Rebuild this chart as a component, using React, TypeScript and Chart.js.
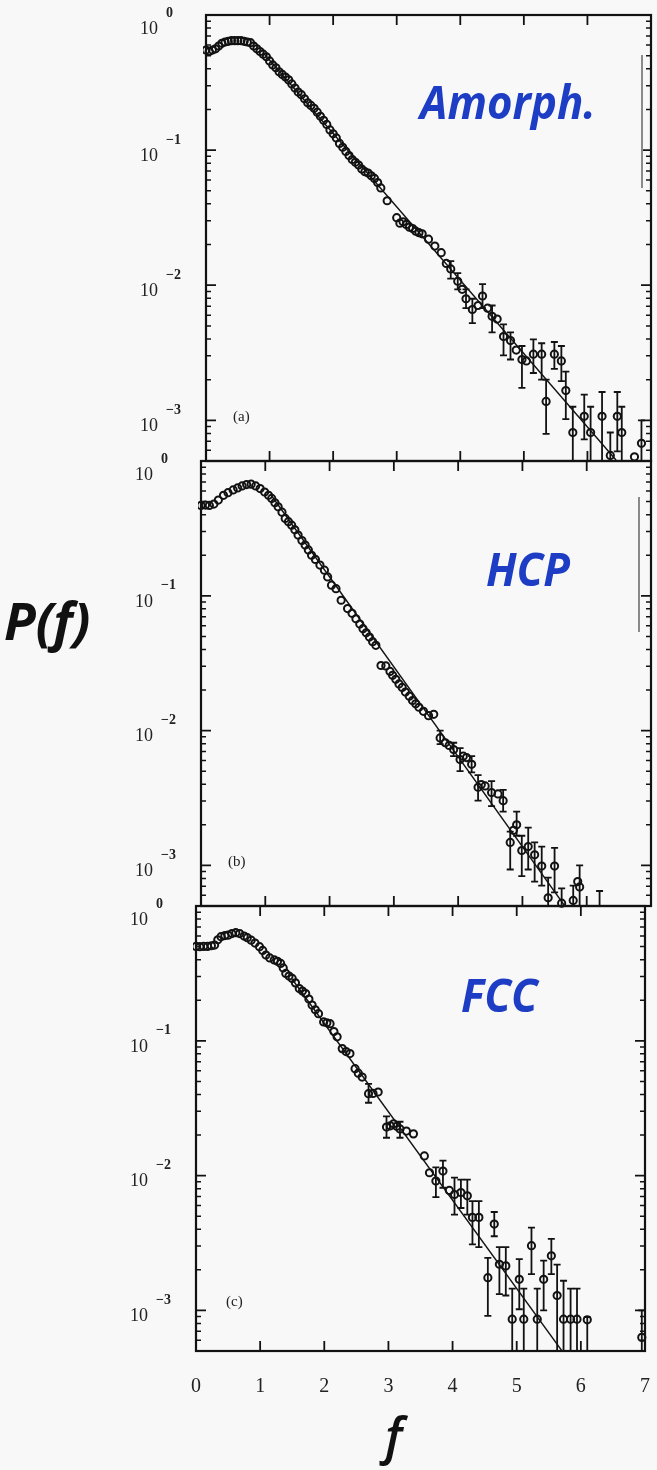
import React, { useEffect, useRef } from "react";
import { Chart, registerables } from "chart.js";

Chart.register(...registerables);

// ---------- axes ----------
const xTickValues = [0, 1, 2, 3, 4, 5, 6, 7];
const xTickLabels = ["0", "1", "2", "3", "4", "5", "6", "7"];
const yDecades = [1, 0.1, 0.01, 0.001];
const yExponents = ["0", "−1", "−2", "−3"];
const yMinorFactors = [2, 3, 4, 5, 6, 7, 8, 9];
const yMin = 5e-4;
const yMax = 1;
const xMin = 0;
const xMax = 7;

// ---------- panel (a) Amorph. ----------
const amorphF = [
  0.0, 0.05, 0.1, 0.15, 0.2, 0.25, 0.3, 0.35, 0.4, 0.45, 0.5, 0.55, 0.6, 0.65, 0.7, 0.75, 0.8, 0.85, 0.9, 0.95,
  1.0, 1.05, 1.1, 1.15, 1.2, 1.25, 1.3, 1.35, 1.4, 1.45, 1.5, 1.55, 1.6, 1.65, 1.7, 1.75, 1.8, 1.85, 1.9, 1.95,
  2.0, 2.05, 2.1, 2.15, 2.2, 2.25, 2.3, 2.35, 2.4, 2.45, 2.5, 2.55, 2.6, 2.65, 2.7, 2.75,
  2.85, 3.0, 3.05, 3.1, 3.15, 3.2, 3.25, 3.3, 3.35, 3.4,
  3.5, 3.6, 3.7, 3.78, 3.85, 3.96, 4.03, 4.09, 4.19, 4.28,
  4.35, 4.43, 4.5, 4.58, 4.68, 4.79, 4.88, 4.97, 5.04, 5.15,
  5.28, 5.35, 5.48, 5.59, 5.66, 5.77, 5.95, 6.05, 6.23, 6.36,
  6.47, 6.54, 6.74, 6.85,
];
const amorphP = [
  0.55, 0.537, 0.55, 0.562, 0.589, 0.617, 0.631, 0.638, 0.646, 0.646, 0.646, 0.646, 0.638, 0.631, 0.624, 0.589, 0.562, 0.537, 0.513, 0.49,
  0.457, 0.427, 0.407, 0.38, 0.363, 0.347, 0.331, 0.309, 0.288, 0.269, 0.257, 0.24, 0.224, 0.214, 0.204, 0.191, 0.178, 0.166, 0.155, 0.141,
  0.132, 0.123, 0.112, 0.105, 0.0977, 0.0912, 0.0851, 0.0813, 0.0776, 0.0724, 0.0692, 0.0676, 0.0646, 0.0617, 0.0575, 0.0525,
  0.0422, 0.0316, 0.0288, 0.0295, 0.0282, 0.0269, 0.0263, 0.0251, 0.0245, 0.024,
  0.0219, 0.0195, 0.0174, 0.0145, 0.0132, 0.0107, 0.00933, 0.00794, 0.00661, 0.00708,
  0.00832, 0.00676, 0.00589, 0.00562, 0.00417, 0.00389, 0.00331, 0.00282, 0.00275, 0.00309,
  0.00309, 0.00138, 0.00309, 0.00275, 0.00166, 0.000813, 0.00107, 0.000813, 0.00107, 0.00055,
  0.00107, 0.000813, 0.000537, 0.000676,
];
const amorphErrF = [3.85, 3.96, 4.09, 4.19, 4.35, 4.5, 4.68, 4.79, 4.97, 5.15, 5.28, 5.35, 5.48, 5.59, 5.66, 5.77, 5.95, 6.05, 6.23, 6.36, 6.47, 6.54, 6.85];
const amorphErrLo = [0.0112, 0.00933, 0.00676, 0.00525, 0.00676, 0.00447, 0.00302, 0.00282, 0.00174, 0.00224, 0.002, 0.000794, 0.0024, 0.00195, 0.00102, 0.0004, 0.000724, 0.0004, 0.0004, 0.0004, 0.000589, 0.0004, 0.0004];
const amorphErrHi = [0.0151, 0.0123, 0.00933, 0.00794, 0.0102, 0.00708, 0.00513, 0.00447, 0.00355, 0.00398, 0.00372, 0.002, 0.0038, 0.00355, 0.00229, 0.00126, 0.00155, 0.00126, 0.00162, 0.000813, 0.00162, 0.00126, 0.001];
const amorphFitF = [0.9, 6.45];
const amorphFitP = [0.525, 0.000508];

// ---------- panel (b) HCP ----------
const hcpF = [
  0.0, 0.07, 0.13, 0.2, 0.27, 0.35, 0.42, 0.5, 0.57, 0.64,
  0.71, 0.78, 0.85, 0.92, 0.99, 1.05, 1.1, 1.15, 1.2, 1.26,
  1.31, 1.36, 1.41, 1.46, 1.51, 1.57, 1.62, 1.67, 1.72, 1.78,
  1.85, 1.92, 1.97, 2.03, 2.1, 2.18, 2.28, 2.35, 2.41, 2.47,
  2.52, 2.57, 2.62, 2.67, 2.72, 2.8, 2.875, 2.94, 2.98, 3.03,
  3.08, 3.13, 3.18, 3.24, 3.29, 3.34, 3.39, 3.46, 3.54, 3.62,
  3.72, 3.8, 3.86, 3.93, 4.03, 4.08, 4.13, 4.21, 4.31, 4.36,
  4.42, 4.52, 4.62, 4.7, 4.81, 4.86, 4.91, 4.99, 5.09, 5.19,
  5.3, 5.4, 5.5, 5.61, 5.79, 5.86, 5.89, 6.2,
];
const hcpP = [
  0.468, 0.471, 0.468, 0.479, 0.513, 0.556, 0.582, 0.61, 0.631, 0.653,
  0.668, 0.673, 0.653, 0.624, 0.589, 0.556, 0.528, 0.49, 0.457, 0.417,
  0.375, 0.355, 0.334, 0.309, 0.282, 0.257, 0.238, 0.219, 0.2, 0.186,
  0.169, 0.155, 0.138, 0.12, 0.113, 0.0927, 0.0804, 0.0741, 0.0676, 0.0617,
  0.057, 0.0531, 0.0494, 0.0457, 0.0429, 0.0304, 0.0302, 0.0275, 0.0257, 0.024,
  0.0222, 0.0209, 0.0193, 0.018, 0.0167, 0.0158, 0.0149, 0.0139, 0.0129, 0.0132,
  0.00883, 0.00813, 0.00776, 0.00724, 0.0061, 0.00646, 0.00631, 0.00562, 0.0038, 0.00398,
  0.00389, 0.00347, 0.00339, 0.00302, 0.00148, 0.00182, 0.002, 0.00129, 0.00138, 0.0012,
  0.000989, 0.000575, 0.000989, 0.000525, 0.00055, 0.000759, 0.000692, 0.0004,
];
const hcpErrF = [3.72, 3.93, 4.03, 4.21, 4.31, 4.52, 4.7, 4.81, 4.91, 4.99, 5.09, 5.19, 5.3, 5.4, 5.5, 5.61, 5.79, 5.89, 6.2];
const hcpErrLo = [0.00794, 0.00646, 0.00501, 0.0049, 0.00302, 0.00275, 0.00251, 0.000933, 0.00166, 0.000832, 0.000933, 0.000759, 0.000708, 0.0004, 0.000631, 0.0004, 0.0004, 0.0004, 0.0004];
const hcpErrHi = [0.01, 0.00813, 0.00741, 0.00646, 0.00468, 0.00422, 0.00363, 0.00178, 0.00251, 0.00166, 0.00191, 0.00148, 0.00138, 0.000813, 0.00135, 0.000676, 0.000708, 0.001, 0.000646];
const hcpFitF = [1.1, 5.7];
const hcpFitP = [0.55, 0.00047];

// ---------- panel (c) FCC ----------
const fccF = [
  0.0, 0.06, 0.12, 0.18, 0.24, 0.29, 0.34, 0.39, 0.45, 0.5,
  0.56, 0.62, 0.68, 0.75, 0.8, 0.86, 0.92, 0.99, 1.04, 1.09,
  1.15, 1.22, 1.27, 1.32, 1.36, 1.4, 1.45, 1.5, 1.55, 1.61,
  1.66, 1.71, 1.76, 1.81, 1.86, 1.91, 1.99, 2.04, 2.09, 2.15,
  2.2, 2.28, 2.34, 2.4, 2.48, 2.53, 2.59, 2.69, 2.76, 2.84,
  2.97, 3.03, 3.08, 3.13, 3.18, 3.28, 3.39, 3.56, 3.64, 3.74,
  3.85, 3.95, 4.03, 4.13, 4.23, 4.31, 4.41, 4.55, 4.65, 4.73,
  4.83, 4.93, 5.04, 5.11, 5.23, 5.32, 5.42, 5.54, 5.63, 5.73,
  5.84, 5.94, 6.1, 6.95,
];
const fccP = [
  0.501, 0.499, 0.501, 0.501, 0.507, 0.513, 0.562, 0.592, 0.603, 0.608,
  0.624, 0.634, 0.624, 0.598, 0.582, 0.558, 0.531, 0.499, 0.468, 0.433,
  0.412, 0.398, 0.389, 0.375, 0.347, 0.316, 0.302, 0.29, 0.269, 0.244,
  0.234, 0.224, 0.204, 0.184, 0.17, 0.159, 0.138, 0.136, 0.134, 0.117,
  0.107, 0.0875, 0.0832, 0.0804, 0.0621, 0.0575, 0.0538, 0.0405, 0.0407, 0.0417,
  0.0229, 0.0234, 0.0242, 0.0232, 0.0222, 0.0214, 0.0204, 0.014, 0.0105, 0.00912,
  0.0108, 0.00776, 0.00724, 0.00748, 0.00708, 0.0049, 0.0049, 0.00175, 0.00437, 0.0022,
  0.00214, 0.000861, 0.0017, 0.000861, 0.00302, 0.000861, 0.0017, 0.00254, 0.00129, 0.000861,
  0.000861, 0.000861, 0.000851, 0.000631,
];
const fccErrF = [2.69, 2.97, 3.18, 3.74, 3.85, 4.03, 4.13, 4.23, 4.31, 4.41, 4.55, 4.65, 4.73, 4.83, 4.93, 5.04, 5.11, 5.23, 5.32, 5.42, 5.54, 5.63, 5.73, 5.84, 5.94, 6.1, 6.95];
const fccErrLo = [0.0347, 0.0191, 0.0191, 0.00692, 0.00813, 0.00513, 0.00575, 0.00513, 0.00309, 0.00295, 0.000912, 0.00355, 0.00132, 0.00129, 0.0004, 0.00102, 0.0004, 0.00186, 0.0004, 0.001, 0.00186, 0.0004, 0.0004, 0.0004, 0.0004, 0.0004, 0.0004];
const fccErrHi = [0.0479, 0.0275, 0.0251, 0.0115, 0.0129, 0.00966, 0.00933, 0.00933, 0.00646, 0.00646, 0.00245, 0.00537, 0.00295, 0.00295, 0.00145, 0.0024, 0.00145, 0.00412, 0.00145, 0.00234, 0.00339, 0.00219, 0.00166, 0.00145, 0.00145, 0.000891, 0.001];
const fccFitF = [1.5, 5.72];
const fccFitP = [0.286, 0.00049];

// ---------- layout / style ----------
const INK = "#121212";
const BG = "#f8f8f8";
const W = 657;

type PanelCfg = {
  key: string;
  canvasTop: number;
  canvasH: number;
  pad: { left: number; right: number; top: number; bottom: number };
  f: number[];
  p: number[];
  errF: number[];
  errLo: number[];
  errHi: number[];
  fitF: number[];
  fitP: number[];
  showXLabels: boolean;
};

const panels: PanelCfg[] = [
  {
    key: "a", canvasTop: 0, canvasH: 475,
    pad: { left: 206, right: 2, top: 15, bottom: 14 },
    f: amorphF, p: amorphP, errF: amorphErrF, errLo: amorphErrLo, errHi: amorphErrHi,
    fitF: amorphFitF, fitP: amorphFitP, showXLabels: false,
  },
  {
    key: "b", canvasTop: 448, canvasH: 470,
    pad: { left: 201, right: 6, top: 13, bottom: 12 },
    f: hcpF, p: hcpP, errF: hcpErrF, errLo: hcpErrLo, errHi: hcpErrHi,
    fitF: hcpFitF, fitP: hcpFitP, showXLabels: false,
  },
  {
    key: "c", canvasTop: 893, canvasH: 577,
    pad: { left: 196, right: 12, top: 13, bottom: 119 },
    f: fccF, p: fccP, errF: fccErrF, errLo: fccErrLo, errHi: fccErrHi,
    fitF: fccFitF, fitP: fccFitP, showXLabels: true,
  },
];

function makeDeco(cfg: PanelCfg) {
  return {
    id: "deco_" + cfg.key,
    beforeDatasetsDraw(chart: any) {
      const { ctx, chartArea: a } = chart;
      const xs = chart.scales.x;
      const ys = chart.scales.y;
      ctx.save();
      ctx.beginPath();
      ctx.rect(a.left, a.top, a.right - a.left, a.bottom - a.top);
      ctx.clip();
      ctx.strokeStyle = INK;
      ctx.lineWidth = 1.8;
      cfg.errF.forEach((fv, i) => {
        const px = xs.getPixelForValue(fv);
        const p1 = ys.getPixelForValue(cfg.errLo[i]);
        const p2 = ys.getPixelForValue(cfg.errHi[i]);
        ctx.beginPath();
        ctx.moveTo(px, p1);
        ctx.lineTo(px, p2);
        ctx.moveTo(px - 3.5, p1);
        ctx.lineTo(px + 3.5, p1);
        ctx.moveTo(px - 3.5, p2);
        ctx.lineTo(px + 3.5, p2);
        ctx.stroke();
      });
      ctx.restore();
    },
    afterDraw(chart: any) {
      const { ctx, chartArea: a } = chart;
      const xs = chart.scales.x;
      const ys = chart.scales.y;
      ctx.save();
      ctx.strokeStyle = INK;
      // frame
      ctx.lineWidth = 2.2;
      ctx.strokeRect(a.left, a.top, a.right - a.left, a.bottom - a.top);
      // x ticks (inward, top and bottom)
      ctx.lineWidth = 1.8;
      xTickValues.forEach((v) => {
        const px = xs.getPixelForValue(v);
        ctx.beginPath();
        ctx.moveTo(px, a.top);
        ctx.lineTo(px, a.top + 10);
        ctx.moveTo(px, a.bottom);
        ctx.lineTo(px, a.bottom - 10);
        ctx.stroke();
      });
      // y ticks (major + minor, left and right)
      yDecades.forEach((d) => {
        const py = ys.getPixelForValue(d);
        ctx.lineWidth = 1.8;
        ctx.beginPath();
        ctx.moveTo(a.left, py);
        ctx.lineTo(a.left + 10, py);
        ctx.moveTo(a.right, py);
        ctx.lineTo(a.right - 10, py);
        ctx.stroke();
        ctx.lineWidth = 1.5;
        yMinorFactors.forEach((m) => {
          const v = (d / 10) * m;
          if (v < yMin) return;
          const pm = ys.getPixelForValue(v);
          ctx.beginPath();
          ctx.moveTo(a.left, pm);
          ctx.lineTo(a.left + 5, pm);
          ctx.moveTo(a.right, pm);
          ctx.lineTo(a.right - 5, pm);
          ctx.stroke();
        });
      });
      // y labels: 10 with superscript exponent
      ctx.fillStyle = "#222";
      ctx.textBaseline = "middle";
      yDecades.forEach((d, i) => {
        const py = ys.getPixelForValue(d);
        const off = i === 0 ? 8 : 0;
        ctx.font = '18px "Liberation Serif", "DejaVu Serif", serif';
        ctx.textAlign = "right";
        ctx.fillText("10", a.left - 48, py + 6 + off);
        ctx.font = 'bold 14px "Liberation Serif", "DejaVu Serif", serif';
        ctx.textAlign = "left";
        ctx.fillText(yExponents[i], a.left - 40, py - 10 + off);
      });
      if (cfg.showXLabels) {
        ctx.font = '20px "Liberation Serif", "DejaVu Serif", serif';
        ctx.textAlign = "center";
        xTickValues.forEach((v, i) => {
          ctx.fillText(xTickLabels[i], xs.getPixelForValue(v), a.bottom + 36);
        });
      }
      ctx.restore();
    },
  };
}

function Panel({ cfg }: { cfg: PanelCfg }) {
  const ref = useRef<HTMLCanvasElement | null>(null);
  useEffect(() => {
    if (!ref.current) return;
    const chart = new Chart(ref.current, {
      type: "scatter",
      data: {
        datasets: [
          {
            data: cfg.fitF.map((fv, i) => ({ x: fv, y: cfg.fitP[i] })),
            showLine: true,
            borderColor: INK,
            borderWidth: 1.4,
            pointRadius: 0,
            fill: false,
          } as any,
          {
            data: cfg.f.map((fv, i) => ({ x: fv, y: cfg.p[i] })),
            showLine: false,
            pointRadius: 3.6,
            pointBorderWidth: 2,
            pointBorderColor: INK,
            pointBackgroundColor: "rgba(0,0,0,0)",
            clip: 3,
          } as any,
        ],
      },
      options: {
        animation: false,
        responsive: false,
        maintainAspectRatio: false,
        events: [],
        layout: { padding: cfg.pad },
        plugins: { legend: { display: false }, tooltip: { enabled: false }, title: { display: false } },
        scales: {
          x: { type: "linear", min: xMin, max: xMax, display: false },
          y: { type: "logarithmic", min: yMin, max: yMax, display: false },
        },
      },
      plugins: [makeDeco(cfg)],
    });
    return () => chart.destroy();
  }, [cfg]);
  return (
    <canvas
      ref={ref}
      width={W}
      height={cfg.canvasH}
      style={{ position: "absolute", left: 0, top: cfg.canvasTop, width: W, height: cfg.canvasH }}
    />
  );
}

const blueLabel: React.CSSProperties = {
  position: "absolute",
  fontFamily: '"Open Sans", "Noto Sans", sans-serif',
  fontWeight: 700,
  fontStyle: "italic",
  fontSize: 46,
  lineHeight: 1,
  color: "#1d3ec4",
  whiteSpace: "nowrap",
  transformOrigin: "left top",
  transform: "scaleX(0.95)",
};

const panelTag: React.CSSProperties = {
  position: "absolute",
  fontFamily: '"Liberation Serif", serif',
  fontSize: 15,
  lineHeight: 1,
  color: "#222",
  whiteSpace: "nowrap",
};

export default function App() {
  return (
    <div style={{ position: "absolute", left: 0, top: 0, width: W, height: 1470, background: BG, overflow: "hidden" }}>
      {panels.map((c) => (
        <Panel key={c.key} cfg={c} />
      ))}
      <div style={{ ...blueLabel, left: 420, top: 78 }}>Amorph.</div>
      <div style={{ ...blueLabel, left: 486, top: 545 }}>HCP</div>
      <div style={{ ...blueLabel, left: 461, top: 971 }}>FCC</div>
      <div style={{ ...panelTag, left: 233, top: 409 }}>(a)</div>
      <div style={{ ...panelTag, left: 228, top: 854 }}>(b)</div>
      <div style={{ ...panelTag, left: 226, top: 1294 }}>(c)</div>
      <div
        style={{
          position: "absolute", left: 4, top: 594,
          fontFamily: '"Open Sans", sans-serif', fontWeight: 700, fontStyle: "italic",
          fontSize: 52, lineHeight: 1, color: "#111", whiteSpace: "nowrap",
        }}
      >
        P(f)
      </div>
      <div
        style={{
          position: "absolute", left: 385, top: 1410,
          fontFamily: '"Open Sans", sans-serif', fontWeight: 600, fontStyle: "italic",
          fontSize: 50, lineHeight: 1, color: "#111", whiteSpace: "nowrap",
        }}
      >
        f
      </div>
      <div style={{ position: "absolute", left: 641, top: 55, width: 1.5, height: 133, background: "#8a8a8a" }} />
      <div style={{ position: "absolute", left: 638, top: 497, width: 1.5, height: 135, background: "#8a8a8a" }} />
    </div>
  );
}
